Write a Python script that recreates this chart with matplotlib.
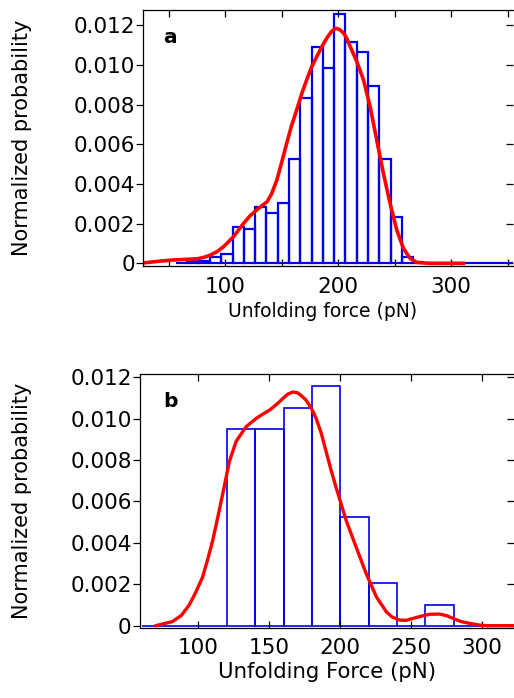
import numpy as np
import matplotlib
matplotlib.use("Agg")
from matplotlib import pyplot as plt
from matplotlib.ticker import FuncFormatter

# panel a: histogram (bin width 10 pN), left edges
a_edges = [56.5, 66.5, 76.5, 86.5, 96.5, 106.5, 116.5, 126.5, 136.5, 146.5,
           156.5, 166.5, 176.5, 186.5, 196.5, 206.5, 216.5, 226.5, 236.5,
           246.5, 256.5, 266.5, 276.5, 286.5, 296.5, 306.5, 316.5, 326.5,
           336.5, 346.5]
a_heights = [0, 0.0001, 0.0001, 0.0003, 0.00047, 0.00183, 0.00173, 0.00284,
             0.00256, 0.00306, 0.00525, 0.00835, 0.01092, 0.00985, 0.01256,
             0.01114, 0.01066, 0.00894, 0.00524, 0.00234, 0.00032, 0, 0, 0,
             0, 0, 0, 0, 0, 0]

# panel a: smooth density curve
a_curve_x = [29, 40, 54, 65, 75, 81, 87, 93, 98.5, 103, 107.5, 116, 122, 128,
             133, 137, 141, 145.7, 150, 154.4, 158.5, 163.3, 168, 172.2,
             176.5, 181.1, 185.5, 190, 194, 197.6, 201, 204.7, 207.5, 210.6,
             216.5, 222.4, 228.3, 234.2, 240.1, 246, 251.9, 257.8, 263.7,
             269.6, 281, 311]
a_curve_y = [0.00003, 0.0001, 0.00017, 0.0002, 0.00023, 0.0003, 0.00042,
             0.0006, 0.00084, 0.0011, 0.00136, 0.002, 0.0024, 0.0027,
             0.00293, 0.0031, 0.0035, 0.0042, 0.0051, 0.00605, 0.0069,
             0.00774, 0.0086, 0.00926, 0.0099, 0.01043, 0.01092, 0.01136,
             0.01168, 0.01185, 0.0118, 0.01162, 0.01135, 0.01094, 0.01017,
             0.00926, 0.0079, 0.00621, 0.00453, 0.00302, 0.00168, 0.00076,
             0.00025, 0.00005, 0, 0]

# panel b: histogram (bin width 20 pN), left edges
b_edges = [60, 80, 100, 120, 140, 160, 180, 200, 220, 240, 260, 280, 300, 320]
b_heights = [0, 0, 0, 0.00948, 0.00948, 0.01053, 0.01157, 0.00525, 0.00206,
             0, 0.00099, 0, 0, 0]

# panel b: smooth density curve
b_curve_x = [70, 81.7, 88, 93.5, 98, 102.9, 106.5, 110, 113.5, 117, 121.8,
             126.5, 133.5, 140.6, 145, 150, 155, 159.4, 163, 166.5, 170,
             173.5, 175.9, 179.5, 183, 186.5, 190, 193.5, 197.1, 204.2,
             211.2, 218.3, 225.4, 232.4, 236.5, 241.8, 246.5, 251.2, 257,
             263, 270, 275, 279.5, 285, 291.2, 297, 303, 322]
b_curve_y = [0, 0.0002, 0.0005, 0.001, 0.0016, 0.00234, 0.0032, 0.0041,
             0.0052, 0.00633, 0.00793, 0.00889, 0.0096, 0.01, 0.0102, 0.0104,
             0.01068, 0.01096, 0.01118, 0.01128, 0.01124, 0.01104, 0.01088,
             0.0105, 0.01, 0.0093, 0.0084, 0.0075, 0.00665, 0.00506, 0.00378,
             0.0025, 0.00139, 0.00067, 0.00042, 0.00027, 0.00026, 0.00035,
             0.00046, 0.00055, 0.00056, 0.00048, 0.00035, 0.0002, 0.00011,
             0.00004, 0, 0]

blue = "#0000ee"
red = "#ff0000"

plt.rcParams['font.family'] = ['DejaVu Sans']

fig = plt.figure(figsize=(5.14, 6.98), dpi=100)
ax1 = fig.add_axes([0.2788, 0.6193, 0.7202, 0.3663])
ax2 = fig.add_axes([0.2724, 0.0999, 0.7276, 0.3643])


def yfmt(v, pos):
    if abs(v) < 1e-9:
        return "0"
    return "%.3f" % v


def style(ax, label_x):
    ax.spines['right'].set_visible(False)
    for s in ['left', 'top', 'bottom']:
        ax.spines[s].set_linewidth(0.9)
    ax.tick_params(axis='y', which='both', direction='out', length=5,
                   width=0.9, pad=1, labelsize=15.5, right=False)
    ax.tick_params(axis='x', which='both', direction='in', length=5,
                   width=0.9, labelsize=15.5, top=True)
    ax.set_yticks(np.arange(0, 0.0121, 0.002))
    ax.yaxis.set_major_formatter(FuncFormatter(yfmt))
    ax.set_ylabel("Normalized probability", fontsize=15)
    ax.yaxis.set_label_coords(label_x, 0.5)
    # mirrored inward ticks on the right edge
    ax2r = ax.secondary_yaxis('right')
    ax2r.set_yticks(np.arange(0, 0.0121, 0.002))
    ax2r.tick_params(direction='in', length=5, width=0.9, labelright=False)
    ax2r.spines['right'].set_visible(False)


# ---- panel a
ax1.bar(a_edges, a_heights, width=10, align='edge', fill=False,
        edgecolor=blue, linewidth=1.6)
ax1.plot(a_curve_x, a_curve_y, color=red, linewidth=2.6)
ax1.set_xlim(27.4, 355.3)
ax1.set_ylim(-0.00012, 0.01277)
style(ax1, -0.30)
ax1.set_xticks([100, 200, 300])
ax1.set_xticks([50, 150, 250, 350], minor=True)
ax1.tick_params(axis='x', pad=8)
ax1.set_xlabel("Unfolding force (pN)", fontsize=13.5)
ax1.xaxis.set_label_coords(0.484, -0.142)
ax1.text(0.053, 0.871, "a", transform=ax1.transAxes, fontsize=14.5,
         fontweight='bold')

# ---- panel b
ax2.bar(b_edges, b_heights, width=20, align='edge', fill=False,
        edgecolor=blue, linewidth=1.2)
ax2.plot(b_curve_x, b_curve_y, color=red, linewidth=2.4)
ax2.set_xlim(58.8, 322.4)
ax2.set_ylim(-0.000125, 0.01215)
style(ax2, -0.288)
ax2.set_xticks([100, 150, 200, 250, 300])
ax2.tick_params(axis='x', pad=7)
ax2.set_xlabel("Unfolding Force (pN)", fontsize=15.3)
ax2.xaxis.set_label_coords(0.5, -0.131)
ax2.text(0.062, 0.871, "b", transform=ax2.transAxes, fontsize=14.5,
         fontweight='bold')

fig.savefig("out.png", dpi=100)
